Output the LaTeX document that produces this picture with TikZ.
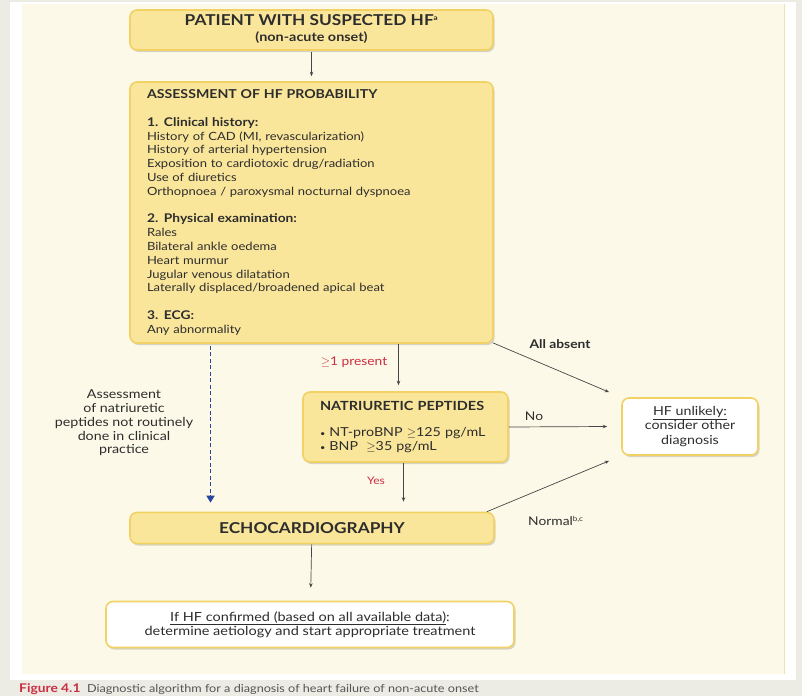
\documentclass[tikz,border=0pt]{standalone}
\usepackage{fontspec}
\setmainfont{Lato}[FakeStretch=1.15]
\usetikzlibrary{arrows.meta,shadows,calc}

\definecolor{pagegray}{RGB}{236,236,228}
\definecolor{cream}{RGB}{252,249,232}
\definecolor{panelrim}{RGB}{232,228,170}
\definecolor{boxfill}{RGB}{250,230,155}
\definecolor{boxrim}{RGB}{242,210,100}
\definecolor{ink}{RGB}{45,45,45}
\definecolor{linkgray}{RGB}{70,70,70}
\definecolor{labelred}{RGB}{205,45,65}
\definecolor{dashblue}{RGB}{40,70,160}
\definecolor{capgray}{RGB}{85,85,85}

\newcommand{\fs}[2]{\fontsize{#1}{#2}\selectfont}

\tikzset{
  ybox/.style={draw=boxrim, fill=boxfill, line width=1.6pt, rounded corners=7pt,
    drop shadow={shadow xshift=1.5pt, shadow yshift=-2pt, opacity=.22, fill=black!70},
    text=ink, inner sep=0pt},
  wbox/.style={ybox, fill=white},
  body/.style={font=\fs{12.6}{14.4}},
  arr/.style={draw=linkgray, line width=0.7pt, -{Stealth[length=4.5pt,width=3.5pt]}},
  dasharr/.style={draw=dashblue, line width=1.6pt, dash pattern=on 4pt off 2.5pt,
    -{Triangle[length=7pt,width=8pt]}},
  lbl/.style={text=ink, font=\fs{12}{14}, inner sep=0pt},
  redlbl/.style={text=labelred, font=\fs{12}{14}, inner sep=0pt},
}

\begin{document}
\begin{tikzpicture}[x=1pt, y=-1pt]
\useasboundingbox (0,0) rectangle (802,696);

% page and panel
\fill[pagegray] (0,0) rectangle (802,696);
\fill[white] (10,2) rectangle (796,680);
\fill[cream] (22,4) rectangle (784,674);
\draw[panelrim, line width=1pt] (784,4) -- (784,674);

% boxes
\node[ybox, minimum width=363pt, minimum height=40pt] (top) at (311.5,30)
  {\begin{tabular}{@{}c@{}}{\bfseries\fs{15}{16}PATIENT WITH SUSPECTED HF\textsuperscript{\fs{7}{7}a}}\\[3pt]
   {\bfseries\fs{12.5}{13}(non-acute onset)}\end{tabular}};

\node[ybox, minimum width=363pt, minimum height=261pt, font=\fs{11.3}{13.8},
      text width=329pt, align=left]
  (assess) at (311.5,212.5)
  {{\bfseries\fs{12.3}{13.8}ASSESSMENT OF HF PROBABILITY}\\[13.8pt]
   {\bfseries\fs{12}{13.8}1. Clinical history:}\\
   History of CAD (MI, revascularization)\\
   History of arterial hypertension\\
   Exposition to cardiotoxic drug/radiation\\
   Use of diuretics\\
   Orthopnoea / paroxysmal nocturnal dyspnoea\\[13.8pt]
   {\bfseries\fs{12}{13.8}2. Physical examination:}\\
   Rales\\
   Bilateral ankle oedema\\
   Heart murmur\\
   Jugular venous dilatation\\
   Laterally displaced/broadened apical beat\\[13.8pt]
   {\bfseries\fs{12}{13.8}3. ECG:}\\
   Any abnormality};

\node[ybox, minimum width=205pt, minimum height=70pt, font=\fs{12.4}{13.6},
      text width=171pt, align=left]
  (np) at (405.5,427)
  {{\bfseries\fs{12.6}{13.6}NATRIURETIC PEPTIDES}\\[13pt]
   {\fs{8}{8}\textbullet}\ NT-proBNP $\geq$125 pg/mL\\
   {\fs{8}{8}\textbullet}\ BNP\ \ $\geq$35 pg/mL};

\node[wbox, minimum width=136pt, minimum height=57pt, font=\fs{12.4}{14.2}, align=center]
  (unl) at (690,426.5)
  {\underline{HF unlikely:}\\consider other\\diagnosis};

\node[ybox, minimum width=364pt, minimum height=31pt, font=\bfseries\fs{15}{16}]
  (echo) at (312,528)
  {ECHOCARDIOGRAPHY};

\node[wbox, minimum width=408pt, minimum height=46pt, body, align=center]
  (conf) at (310,624.5)
  {\underline{If HF confirmed (based on all available data)}:\\
   determine aetiology and start appropriate treatment};

% side note beside the dashed path
\node[lbl, align=center, font=\fs{12.4}{13.7}] (note) at (124,423)
  {Assessment\\of natriuretic\\peptides not routinely\\done in clinical\\practice};

% connectors
\draw[arr, shorten <=1pt, shorten >=5pt] (top) -- (assess);

\coordinate (pin) at ([xshift=-7pt]np.north);
\draw[arr, shorten >=6pt] (pin |- assess.south) -- (pin);
\node[redlbl] (present) at (354,362) {$\geq$1 present};

\coordinate (pout) at ([xshift=-2pt]np.south);
\draw[arr, shorten >=10pt] (pout) -- (pout |- echo.north);
\node[redlbl, font=\fs{10.5}{12}] (yes) at (376,481) {Yes};

\coordinate (dtop) at ([xshift=-101pt]assess.south);
\draw[dasharr, shorten <=2pt, shorten >=9pt] (dtop) -- (dtop |- echo.north);

\coordinate (absentstart) at ([xshift=-1pt,yshift=1pt]assess.south east);
\draw[arr] (absentstart) -- ($(unl.north west)+(-12,-5)$);
\node[lbl, font=\bfseries\fs{12}{14}] (absent) at (560,344) {All absent};

\draw[arr] (np.east) -- ($(unl.west)+(-14,0)$);
\node[lbl] (no) at (534,416) {No};

\coordinate (normstart) at ([xshift=-8pt]echo.north east);
\draw[arr] (normstart) -- ($(unl.south west)+(-12,5)$);
\node[lbl, anchor=west] (normal) at (528,521) {Normal\textsuperscript{\fs{7}{8}b,c}};

\draw[arr, shorten >=13pt] (echo) -- (conf);

% caption
\node[anchor=west, inner sep=0pt, font=\fs{11}{12}] (cap) at (19,689)
  {\textcolor{labelred}{\bfseries\fs{12}{12}Figure 4.1}\ \ \textcolor{capgray}{Diagnostic algorithm for a diagnosis of heart failure of non-acute onset}};
\end{tikzpicture}
\end{document}
